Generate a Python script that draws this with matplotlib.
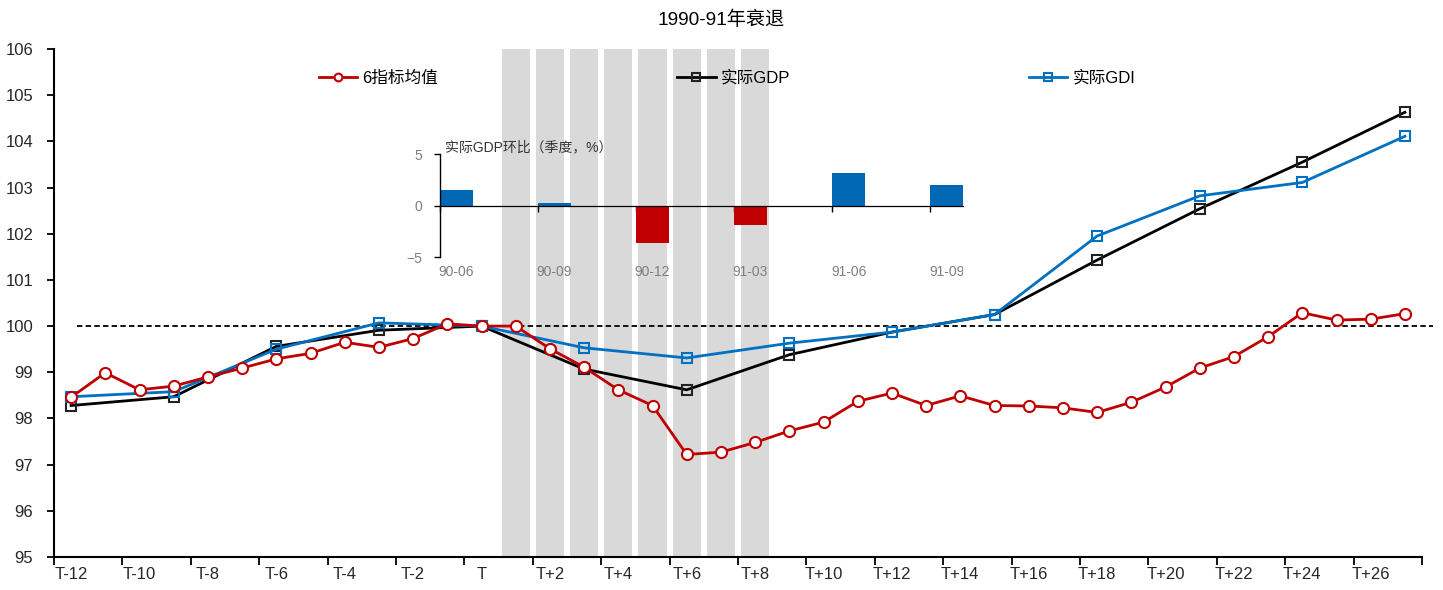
import numpy as np
import matplotlib
matplotlib.use('Agg')
import matplotlib.pyplot as plt
from matplotlib.patches import Rectangle

plt.rcParams['font.family'] = ['Liberation Sans', 'Noto Sans CJK SC', 'DejaVu Sans']

TITLE = '1990-91年衰退'
PERIODS = [f'T{k:+d}' if k else 'T' for k in range(-12, 28)]

# 6 indicator average, every period
AVG6 = [98.46, 98.99, 98.62, 98.70, 98.90, 99.09, 99.29, 99.41, 99.65, 99.54,
        99.73, 100.05, 100.00, 100.00, 99.51, 99.11, 98.62, 98.28, 97.22, 97.27,
        97.48, 97.73, 97.92, 98.37, 98.55, 98.28, 98.49, 98.28, 98.27, 98.23,
        98.13, 98.35, 98.68, 99.09, 99.34, 99.77, 100.29, 100.13, 100.15, 100.27]

# quarterly series
QTR_PERIODS = ['T-12', 'T-9', 'T-6', 'T-3', 'T', 'T+3', 'T+6', 'T+9', 'T+12',
               'T+15', 'T+18', 'T+21', 'T+24', 'T+27']
GDP = [98.28, 98.47, 99.56, 99.91, 100.00, 99.07, 98.62, 99.38, 99.87,
       100.25, 101.43, 102.54, 103.55, 104.63]
GDI = [98.47, 98.58, 99.50, 100.07, 100.00, 99.53, 99.31, 99.63, 99.87,
       100.25, 101.95, 102.82, 103.11, 104.11]

RECESSION = ['T+1', 'T+2', 'T+3', 'T+4', 'T+5', 'T+6', 'T+7', 'T+8']

INSET_QTRS = ['90-06', '90-09', '90-12', '91-03', '91-06', '91-09']
INSET_QOQ = [1.5, 0.25, -3.6, -1.9, 3.2, 2.0]

RED = '#C00000'
BLUE = '#0070C0'
BAR_BLUE = '#0068B5'
GRAY = '#D9D9D9'
TXT = '#262626'

W, H = 1443, 590
fig = plt.figure(figsize=(W / 100, H / 100), dpi=100)
ax = fig.add_axes([54 / W, 1 - 557 / H, 1368 / W, 508 / H])

x_all = np.arange(len(PERIODS))
x_q = [PERIODS.index(p) for p in QTR_PERIODS]
x_rec = [PERIODS.index(p) for p in RECESSION]

ax.bar(x_rec, [11] * len(x_rec), bottom=95, width=0.82, color=GRAY, zorder=0)
ax.axhline(100, xmin=0.017, xmax=1.008, color='black', lw=1.3,
           ls=(0, (3, 1.8)), clip_on=False, zorder=2)

l1, = ax.plot(x_all, AVG6, '-o', color=RED, lw=2, ms=8, mfc='white',
              mec=RED, mew=1.5, zorder=4, label='6指标均值')
l2, = ax.plot(x_q, GDP, '-s', color='black', lw=2, ms=7.5, mfc='none',
              mec='#222222', mew=1.5, zorder=3, label='实际GDP')
l3, = ax.plot(x_q, GDI, '-s', color=BLUE, lw=2, ms=7.5, mfc='none',
              mec=BLUE, mew=1.5, zorder=3, label='实际GDI')

ax.set_xlim(-0.5, 39.5)
ax.set_ylim(95, 106)
ax.set_xticks(np.arange(-0.5, 40, 2))
ax.set_xticklabels([])
ax.set_xticks(x_all[::2], minor=True)
ax.set_xticklabels(PERIODS[::2], minor=True)
ax.tick_params(axis='x', which='major', direction='out', length=6, width=1.3)
ax.tick_params(axis='x', which='minor', length=0, pad=7, labelsize=12, labelcolor=TXT)
ax.set_yticks(range(95, 107))
ax.tick_params(axis='y', direction='out', length=5, width=1.3, pad=10,
               labelsize=12, labelcolor=TXT)
for s in ('top', 'right'):
    ax.spines[s].set_visible(False)
for s in ('left', 'bottom'):
    ax.spines[s].set_linewidth(1.5)

fig.text(721 / W, 1 - 20 / H, TITLE, ha='center', va='center', fontsize=13.8, color='black')

fig.legend(handles=[l1, l2, l3], loc='center left',
           bbox_to_anchor=(319 / W, 1 - 78 / H), ncol=3, frameon=False,
           columnspacing=14.35, handlelength=2.3, handletextpad=0.3,
           markerscale=0.7, borderpad=0, borderaxespad=0, fontsize=12)

# inset: quarterly real GDP growth
axi = fig.add_axes([440 / W, 1 - 257.3 / H, 523 / W, 103 / H])
axi.patch.set_visible(False)
xi = [3 * i for i in range(len(INSET_QTRS))]
colors = [BAR_BLUE if v >= 0 else RED for v in INSET_QOQ]
axi.bar(xi, INSET_QOQ, width=1, align='edge', color=colors, zorder=2)
axi.set_xlim(0, 16)
axi.set_ylim(-5, 5)
axi.set_yticks([-5, 0, 5])
axi.tick_params(axis='y', direction='out', length=4, width=1, pad=9,
                labelsize=10, labelcolor='#7F7F7F')
axi.set_xticks(xi)
axi.set_xticklabels([])
axi.tick_params(axis='x', direction='out', length=4, width=1)
axi.spines['bottom'].set_position(('data', 0))
axi.spines['bottom'].set_linewidth(0.9)
axi.spines['left'].set_linewidth(1)
for s in ('top', 'right'):
    axi.spines[s].set_visible(False)

clip = Rectangle((0, 0), 963 / W, 1, transform=fig.transFigure)
for x, q in zip(xi, INSET_QTRS):
    t = axi.text(x + 0.5, -0.07, q, transform=axi.get_xaxis_transform(),
                 ha='center', va='top', fontsize=10, color='#7F7F7F')
    t.set_clip_on(True)
    t.set_clip_path(clip)

axi.text(0.01, 1.0, '实际GDP环比（季度，%）', transform=axi.transAxes,
         ha='left', va='bottom', fontsize=10, color='#333333')

fig.savefig('out.png', dpi=100)
